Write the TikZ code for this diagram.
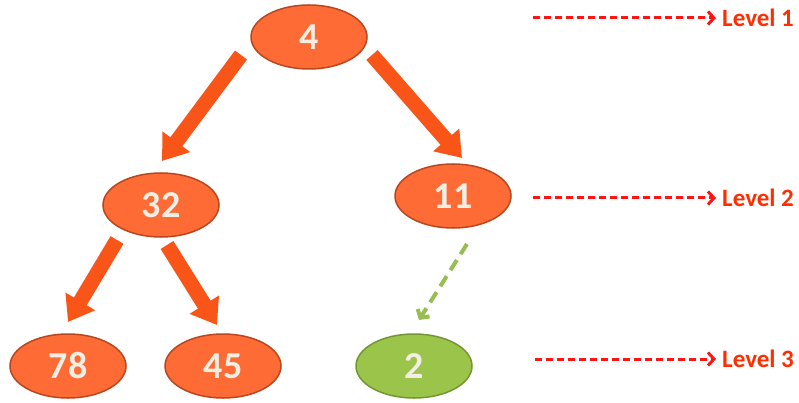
\documentclass[tikz,border=0pt]{standalone}
\usepackage{fontspec}
\setmainfont{Carlito}
\usetikzlibrary{shapes.geometric,arrows.meta,calc}
\definecolor{orng}{RGB}{255,107,53}
\definecolor{orngdk}{RGB}{185,70,30}
\definecolor{grn}{RGB}{155,196,75}
\definecolor{grndk}{RGB}{115,150,50}
\definecolor{arr}{RGB}{250,85,25}
\definecolor{numtxt}{RGB}{242,238,228}
\definecolor{lvl}{RGB}{255,45,0}
\definecolor{dashred}{RGB}{255,20,20}
\definecolor{gdash}{RGB}{150,190,80}
\begin{document}
\begin{tikzpicture}[x=1pt,y=-1pt,
  nd/.style={ellipse, minimum width=116pt, minimum height=64pt, inner sep=0pt,
    fill=orng, draw=orngdk, line width=1.5pt, text=numtxt,
    font=\fontsize{38}{38}\selectfont\bfseries},
  gnd/.style={nd, fill=grn, draw=grndk},
  big/.style={draw=arr, line width=15pt, -{Triangle[length=24pt,width=33pt]}},
  gdashed/.style={draw=gdash, line width=4pt, dash pattern=on 12pt off 7pt,
    -{Straight Barb[length=6pt,width=14pt,line width=4pt]}},
  lvlarrow/.style={draw=dashred, line width=3pt, dash pattern=on 7pt off 4pt,
    -{Straight Barb[length=6pt,width=13pt,line width=3pt]}},
  lvltext/.style={anchor=west, text=lvl, inner sep=0pt,
    font=\fontsize{25}{25}\selectfont\bfseries}
]
\useasboundingbox (0,0) rectangle (799,403);

\node[nd]  (n4)  at (309,37)  {4};
\node[nd]  (n32) at (161,205) {32};
\node[nd]  (n11) at (453,196) {11};
\node[nd]  (n78) at (68,366)  {78};
\node[nd]  (n45) at (223,366) {45};
\node[gnd] (n2)  at (414,366) {2};

\draw[big] ([shift={(-68,18)}]n4.center) -- ([shift={(1,-44)}]n32.center);
\draw[big] ([shift={(63,18)}]n4.center) -- ([shift={(9,-38)}]n11.center);
\draw[big] ([shift={(-44,35)}]n32.center) -- ([shift={(0,-44)}]n78.center);
\draw[big] ([shift={(6,40)}]n32.center) -- ([shift={(-6,-41)}]n45.center);
\draw[gdashed] ([shift={(14,48)}]n11.center) -- ([shift={(5,-46)}]n2.center);

\node[lvltext] (L1) at (722,18)  {Level 1};
\node[lvltext] (L2) at (722,198) {Level 2};
\node[lvltext] (L3) at (722,359) {Level 3};
\coordinate (s1) at (533,18);
\coordinate (s2) at (533,198);
\coordinate (s3) at (535,359);
\draw[lvlarrow] (s1) -- ([xshift=-6pt]L1.west);
\draw[lvlarrow] (s2) -- ([xshift=-6pt]L2.west);
\draw[lvlarrow] (s3) -- ([xshift=-6pt]L3.west);
\end{tikzpicture}
\end{document}
